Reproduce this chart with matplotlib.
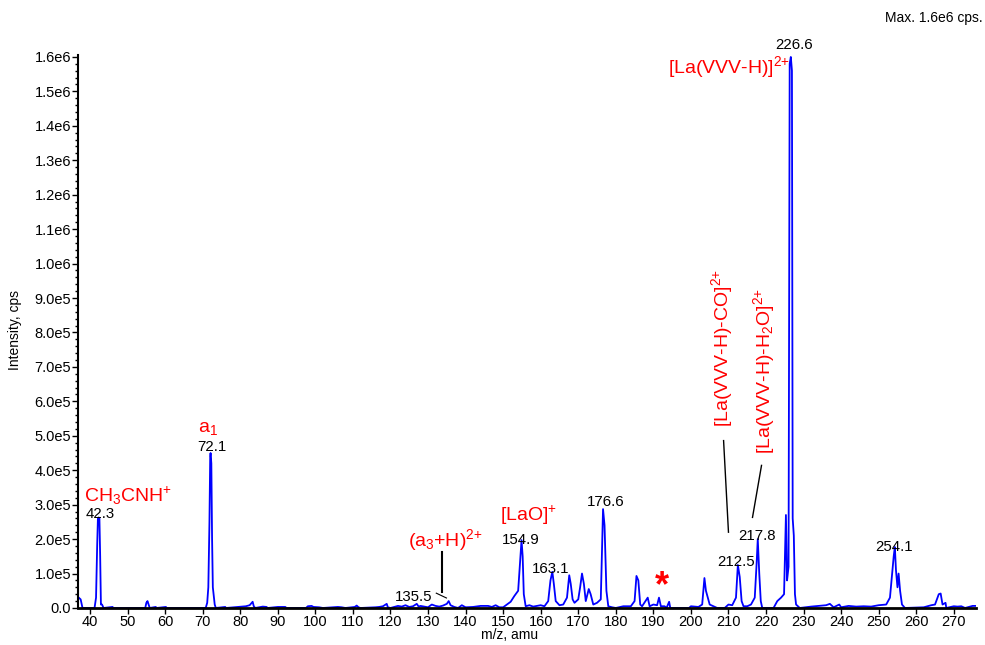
import matplotlib
matplotlib.use("Agg")
import matplotlib.pyplot as plt
from matplotlib.ticker import MultipleLocator

plt.rcParams['font.family'] = ['Liberation Sans', 'DejaVu Sans']
plt.rcParams['mathtext.fontset'] = 'custom'
plt.rcParams['mathtext.rm'] = 'Liberation Sans'
plt.rcParams['mathtext.it'] = 'Liberation Sans:italic'

# spectrum profile (intensity in units of 1e5 cps)
mz = [37.0, 37.5, 38.0, 41.2, 41.6, 41.9, 42.1, 42.3, 42.5, 42.7, 42.9, 43.2, 43.6,
      46.0, 46.2, 54.7, 55.0, 55.3, 55.6, 55.9, 57.5, 57.7, 60.2, 60.4,
      70.8, 71.2, 71.5, 71.8, 72.0, 72.1, 72.3, 72.5, 72.7, 72.9, 73.2, 73.5,
      76.0, 76.2, 81.5, 82.5, 83.3, 83.6, 84.0, 86.0, 87.0, 87.3, 90.0, 92.0, 92.3,
      97.5, 98.0, 99.0, 99.5, 101.0, 102.0, 106.0, 107.0, 108.0, 110.5, 111.0, 111.5, 112.0,
      116.0, 117.0, 118.0, 119.0, 119.3, 120.0, 121.0, 122.0, 123.0, 124.0, 125.0, 126.0,
      127.0, 127.5, 128.0, 129.0, 130.0, 131.0, 132.0, 133.0, 134.0, 135.0, 135.5, 136.0,
      137.0, 138.0, 139.0, 140.0, 142.0, 144.0, 146.0, 147.0, 148.0, 149.0, 150.0, 151.0,
      152.0, 153.0, 154.0, 154.5, 154.9, 155.2, 155.5, 156.0, 157.0, 158.0, 159.0, 160.0,
      161.0, 162.0, 162.6, 163.1, 163.5, 164.0, 165.0, 166.0, 167.0, 167.6, 168.0, 168.5,
      169.0, 170.0, 170.5, 171.0, 171.5, 172.0, 172.8, 173.3, 174.0, 175.0, 176.0, 176.6,
      177.0, 177.5, 178.0, 179.0, 180.0, 182.0, 184.0, 185.0, 185.5, 186.0, 186.5, 187.0,
      188.5, 189.0, 190.0, 191.0, 191.5, 192.0, 193.0, 193.5, 194.2, 194.5, 199.5, 200.0,
      202.0, 203.0, 203.6, 204.0, 204.5, 205.0, 206.0, 207.0, 209.0, 210.0, 211.0, 212.0,
      212.5, 213.0, 213.5, 214.0, 215.0, 216.0, 217.0, 217.5, 217.8, 218.2, 218.6, 219.0,
      222.0, 223.0, 224.0, 224.8, 225.3, 225.6, 226.0, 226.3, 226.6, 226.9, 227.1, 227.4,
      227.7, 228.0, 229.0, 232.0, 236.0, 237.0, 238.0, 239.5, 240.0, 242.0, 244.0, 246.0,
      248.0, 250.0, 252.0, 253.0, 254.0, 254.3, 254.6, 255.0, 255.3, 255.7, 256.2, 257.0,
      262.0, 263.0, 264.0, 265.0, 266.0, 266.5, 267.0, 267.8, 268.0, 270.0, 271.0, 272.0,
      273.0, 275.0, 276.0]
inten = [0.30, 0.25, 0.0, 0.0, 0.3, 1.8, 2.6, 2.63, 2.6, 1.5, 0.1, 0.1, 0.0,
         0.03, 0.0, 0.0, 0.15, 0.2, 0.1, 0.0, 0.03, 0.0, 0.03, 0.0,
         0.0, 0.15, 0.6, 2.5, 4.4, 4.5, 4.2, 2.0, 0.6, 0.4, 0.1, 0.0,
         0.03, 0.0, 0.05, 0.08, 0.18, 0.05, 0.0, 0.04, 0.03, 0.0, 0.03, 0.03, 0.0,
         0.0, 0.05, 0.06, 0.03, 0.02, 0.0, 0.03, 0.02, 0.0, 0.03, 0.07, 0.02, 0.0,
         0.02, 0.03, 0.05, 0.12, 0.02, 0.0, 0.03, 0.06, 0.04, 0.08, 0.03, 0.05,
         0.12, 0.04, 0.06, 0.04, 0.02, 0.1, 0.06, 0.04, 0.07, 0.12, 0.2, 0.08,
         0.03, 0.0, 0.08, 0.02, 0.03, 0.06, 0.06, 0.03, 0.08, 0.02, 0.02, 0.1,
         0.18, 0.35, 0.5, 1.3, 1.97, 1.5, 0.4, 0.05, 0.08, 0.04, 0.06, 0.08,
         0.05, 0.2, 0.8, 1.05, 0.7, 0.2, 0.08, 0.1, 0.3, 0.95, 0.7, 0.25,
         0.15, 0.25, 0.6, 1.0, 0.7, 0.2, 0.55, 0.4, 0.1, 0.15, 0.25, 2.87,
         2.4, 0.5, 0.05, 0.02, 0.0, 0.05, 0.05, 0.2, 0.93, 0.8, 0.1, 0.05,
         0.3, 0.05, 0.1, 0.08, 0.3, 0.05, 0.05, 0.0, 0.18, 0.0, 0.0, 0.05,
         0.03, 0.1, 0.87, 0.5, 0.3, 0.1, 0.05, 0.0, 0.0, 0.1, 0.08, 0.3,
         1.25, 0.9, 0.2, 0.05, 0.05, 0.1, 0.3, 1.3, 2.0, 1.0, 0.2, 0.0,
         0.0, 0.2, 0.3, 0.4, 2.7, 0.8, 1.2, 15.8, 16.0, 15.6, 2.6, 2.1,
         0.4, 0.1, 0.0, 0.04, 0.08, 0.12, 0.02, 0.1, 0.02, 0.06, 0.04, 0.05,
         0.04, 0.08, 0.1, 0.3, 1.5, 1.77, 1.1, 0.6, 1.0, 0.5, 0.1, 0.0,
         0.02, 0.05, 0.08, 0.1, 0.4, 0.42, 0.1, 0.15, 0.0, 0.05, 0.04, 0.05,
         0.0, 0.06, 0.06]

# peak labels (m/z text, x, y in 1e5)
peak_labels = [("42.3", 42.7, 2.72), ("72.1", 72.5, 4.66), ("135.5", 126.1, 0.32),
               ("154.9", 154.6, 1.97), ("163.1", 162.6, 1.13), ("176.6", 177.3, 3.07),
               ("212.5", 211.9, 1.33), ("217.8", 217.5, 2.08), ("254.1", 254.0, 1.77),
               ("226.6", 227.4, 16.35)]

yticks = [i * 1e5 for i in range(17)]
ytick_labels = ["0.0", "1.0e5", "2.0e5", "3.0e5", "4.0e5", "5.0e5", "6.0e5", "7.0e5",
                "8.0e5", "9.0e5", "1.0e6", "1.1e6", "1.2e6", "1.3e6", "1.4e6", "1.5e6", "1.6e6"]

fig = plt.figure(figsize=(9.85, 6.45), dpi=100)
ax = fig.add_axes([0.0792, 0.0574, 0.912, 0.857])

ax.plot(mz, [v * 1e5 for v in inten], color='#0000ff', lw=1.3)

ax.set_xlim(36.8, 276)
ax.set_ylim(0, 1.605e6)
ax.xaxis.set_major_locator(MultipleLocator(10))
ax.set_yticks(yticks)
ax.set_yticklabels(ytick_labels)
ax.yaxis.set_minor_locator(MultipleLocator(2e4))
ax.tick_params(axis='both', labelsize=10.5, direction='out', length=4, width=1, pad=1)
ax.tick_params(axis='y', which='minor', direction='out', length=2, width=1)
for s in ['top', 'right']:
    ax.spines[s].set_visible(False)
ax.spines['left'].set_linewidth(1.5)
ax.spines['bottom'].set_linewidth(2)

ax.set_xlabel('m/z, amu', fontsize=10)
ax.set_ylabel('Intensity, cps', fontsize=10)
ax.xaxis.set_label_coords(0.48, -0.036)
ax.yaxis.set_label_coords(-0.062, 0.503)

for txt, x, y in peak_labels:
    ax.text(x, y * 1e5, txt, fontsize=10.8, ha='center', va='center', clip_on=False)

red = '#ff0000'
fs = 14
ax.text(226.4, 15.7e5, r'[La(VVV-H)]$^{2{+}}$', color=red, fontsize=fs, ha='right', va='center')
ax.text(71.45, 5.2e5, r'a$_1$', color=red, fontsize=fs, ha='center', va='center')
ax.text(38.4, 3.27e5, r'CH$_3$CNH$^{{+}}$', color=red, fontsize=fs, ha='left', va='center')
ax.text(134.6, 1.97e5, r'(a$_3$+H)$^{2{+}}$', color=red, fontsize=fs, ha='center', va='center')
ax.text(156.7, 2.69e5, r'[LaO]$^{{+}}$', color=red, fontsize=fs, ha='center', va='center')
ax.text(192.4, 0.62e5, '*', color=red, fontsize=26, fontweight='bold', ha='center', va='center')
ax.text(208.4, 7.55e5, r'[La(VVV-H)-CO]$^{2{+}}$', color=red, fontsize=fs,
        rotation=90, ha='center', va='center')
ax.text(219.6, 6.89e5, r'[La(VVV-H)-H$_2$O]$^{2{+}}$', color=red, fontsize=fs,
        rotation=90, ha='center', va='center')

# leader lines
ax.plot([133.8, 133.8], [1.62e5, 0.46e5], color='black', lw=1.5)
ax.plot([132.2, 134.9], [0.43e5, 0.29e5], color='black', lw=0.8)
ax.plot([208.7, 210.0], [4.86e5, 2.2e5], color='black', lw=1)
ax.plot([218.8, 216.4], [4.14e5, 2.63e5], color='black', lw=1)

fig.text(0.998, 0.972, 'Max. 1.6e6 cps.', fontsize=10, ha='right', va='center')

fig.savefig('out.png', dpi=100)
